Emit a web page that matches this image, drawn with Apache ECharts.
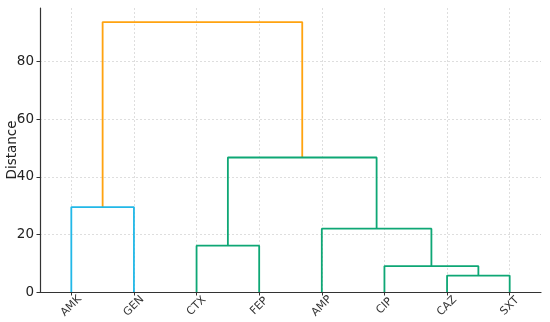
<!DOCTYPE html>
<html>
<head>
<meta charset="utf-8">
<script src="https://cdn.jsdelivr.net/npm/echarts@6/dist/echarts.min.js"></script>
<style>html,body{margin:0;padding:0;background:#fff;}#c{width:550px;height:322px;}</style>
</head>
<body>
<div id="c"></div>
<script>
// Leaves in dendrogram order
var leaves = ['AMK', 'GEN', 'CTX', 'FEP', 'AMP', 'CIP', 'CAZ', 'SXT'];
// Merges: [left child, right child, distance]; leaves are 0..7, new clusters 8,9,...
var mergeLeft  = [6, 5, 2, 4, 0, 10, 12];
var mergeRight = [7, 8, 3, 9, 1, 11, 13];
var mergeDist  = [5.7, 9.0, 16.1, 22.0, 29.5, 46.7, 93.7];
var mergeColor = ['green', 'green', 'green', 'green', 'cyan', 'green', 'orange'];
var yTicks = [0, 20, 40, 60, 80];

var palette = { cyan: '#22b8e8', green: '#0ea775', orange: '#ffa310' };

var leafX = leaves.map(function (_, i) { return 5 + 10 * i; });
var nodeX = leafX.slice();
var nodeY = leaves.map(function () { return 0; });
var series = [];
for (var k = 0; k < mergeDist.length; k++) {
  var a = mergeLeft[k], b = mergeRight[k], h = mergeDist[k];
  var xa = nodeX[a], xb = nodeX[b];
  series.push({
    type: 'line',
    data: [[xa, nodeY[a]], [xa, h], [xb, h], [xb, nodeY[b]]],
    showSymbol: false,
    symbol: 'none',
    silent: true,
    animation: false,
    lineStyle: { color: palette[mergeColor[k]], width: 1.8 },
    z: k === mergeDist.length - 1 ? 3 : 4
  });
  nodeX.push((xa + xb) / 2);
  nodeY.push(h);
}

var chart = echarts.init(document.getElementById('c'), null, { renderer: 'canvas' });
chart.setOption({
  animation: false,
  grid: { left: 40, right: 9, top: 8, bottom: 30, containLabel: false, outerBoundsMode: 'none' },
  xAxis: {
    type: 'value',
    min: 0,
    max: 80,
    axisLine: { show: true, onZero: false, lineStyle: { color: '#333', width: 1.2 } },
    axisTick: { show: true, length: 3.5, customValues: leafX, lineStyle: { color: '#333', width: 1 } },
    axisLabel: {
      customValues: leafX,
      rotate: 45,
      align: 'center',
      verticalAlign: 'middle',
      fontSize: 11,
      color: '#333',
      fontFamily: 'DejaVu Sans',
      margin: 14,
      formatter: function (v) {
        var i = Math.round((v - 5) / 10);
        return leaves[i] || '';
      }
    },
    splitLine: { show: true, lineStyle: { color: '#d6d6d6', type: [2, 2], width: 0.8 } }
  },
  yAxis: {
    type: 'value',
    min: 0,
    max: 98.6,
    name: 'Distance',
    nameLocation: 'middle',
    nameGap: 21,
    nameMoveOverlap: false,
    nameTextStyle: { fontSize: 13.5, color: '#222', fontFamily: 'DejaVu Sans' },
    axisLine: { show: true, lineStyle: { color: '#333', width: 1.2 } },
    axisTick: { show: true, length: 3.5, customValues: yTicks, lineStyle: { color: '#333', width: 1 } },
    axisLabel: { customValues: yTicks, fontSize: 13.5, color: '#222', fontFamily: 'DejaVu Sans', margin: 6 },
    splitLine: { show: true, lineStyle: { color: '#d6d6d6', type: [2, 2], width: 0.8 } }
  },
  series: series
});
</script>
</body>
</html>
